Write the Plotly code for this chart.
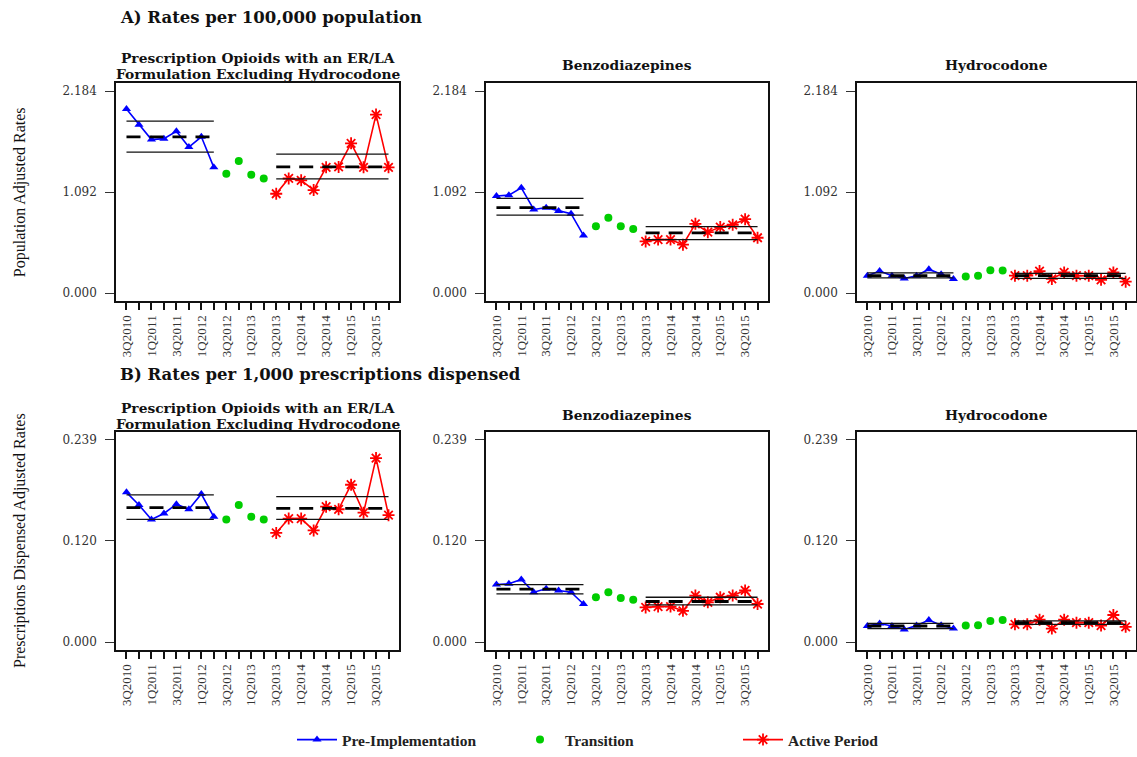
import plotly.graph_objects as go

# Quarters on the x axis (3Q2010 .. 4Q2015); every second one is labelled
quarters = ["3Q2010", "4Q2010", "1Q2011", "2Q2011", "3Q2011", "4Q2011",
            "1Q2012", "2Q2012", "3Q2012", "4Q2012", "1Q2013", "2Q2013",
            "3Q2013", "4Q2013", "1Q2014", "2Q2014", "3Q2014", "4Q2014",
            "1Q2015", "2Q2015", "3Q2015", "4Q2015"]
n_pre, n_trans, n_active = 8, 4, 10

# A) Rates per 100,000 population
pop_opioid_pre = [1.99, 1.82, 1.66, 1.67, 1.75, 1.58, 1.69, 1.36]
pop_opioid_trans = [1.29, 1.43, 1.28, 1.24]
pop_opioid_active = [1.075, 1.24, 1.22, 1.115, 1.36, 1.365, 1.62, 1.36, 1.93, 1.36]
pop_opioid_band_pre = [1.525, 1.69, 1.86]      # lower, mean, upper
pop_opioid_band_active = [1.235, 1.365, 1.503]

pop_benzo_pre = [1.05, 1.06, 1.14, 0.905, 0.925, 0.89, 0.86, 0.625]
pop_benzo_trans = [0.725, 0.815, 0.725, 0.695]
pop_benzo_active = [0.56, 0.58, 0.58, 0.525, 0.75, 0.66, 0.715, 0.74, 0.80, 0.60]
pop_benzo_band_pre = [0.845, 0.925, 1.025]
pop_benzo_band_active = [0.58, 0.652, 0.72]

pop_hydro_pre = [0.19, 0.24, 0.19, 0.16, 0.19, 0.26, 0.205, 0.155]
pop_hydro_trans = [0.18, 0.19, 0.25, 0.245]
pop_hydro_active = [0.19, 0.19, 0.24, 0.155, 0.225, 0.19, 0.19, 0.145, 0.225, 0.125]
pop_hydro_band_pre = [0.167, 0.19, 0.221]
pop_hydro_band_active = [0.16, 0.19, 0.214]

# B) Rates per 1,000 prescriptions dispensed
rx_opioid_pre = [0.177, 0.162, 0.145, 0.152, 0.163, 0.157, 0.175, 0.148]
rx_opioid_trans = [0.145, 0.162, 0.148, 0.145]
rx_opioid_active = [0.129, 0.146, 0.146, 0.132, 0.160, 0.157, 0.186, 0.153, 0.2175, 0.150]
rx_opioid_band_pre = [0.145, 0.159, 0.174]
rx_opioid_band_active = [0.145, 0.158, 0.172]

rx_benzo_pre = [0.068, 0.069, 0.074, 0.059, 0.063, 0.061, 0.059, 0.045]
rx_benzo_trans = [0.053, 0.059, 0.052, 0.050]
rx_benzo_active = [0.041, 0.042, 0.042, 0.037, 0.055, 0.047, 0.053, 0.055, 0.061, 0.045]
rx_benzo_band_pre = [0.057, 0.0625, 0.068]
rx_benzo_band_active = [0.044, 0.048, 0.053]

rx_hydro_pre = [0.019, 0.022, 0.019, 0.015, 0.0195, 0.026, 0.020, 0.016]
rx_hydro_trans = [0.0195, 0.020, 0.025, 0.026]
rx_hydro_active = [0.021, 0.021, 0.0265, 0.016, 0.0265, 0.023, 0.023, 0.0195, 0.032, 0.018]
rx_hydro_band_pre = [0.016, 0.019, 0.022]
rx_hydro_band_active = [0.021, 0.023, 0.025]

pop_ticks = [0.0, 1.092, 2.184]
pop_tick_labels = ["0.000", "1.092", "2.184"]
rx_ticks = [0.0, 0.120, 0.239]
rx_tick_labels = ["0.000", "0.120", "0.239"]

panel_titles = ["Prescription Opioids with an ER/LA|Formulation Excluding Hydrocodone",
                "Benzodiazepines", "Hydrocodone"]
section_titles = ["A) Rates per 100,000 population",
                  "B) Rates per 1,000 prescriptions dispensed"]
y_titles = ["Population Adjusted Rates", "Prescriptions Dispensed Adjusted Rates"]
legend_names = ["Pre-Implementation", "Transition", "Active Period"]

W, H = 1137, 757
BLUE, GREEN, RED = "#0000FF", "#00CD00", "#FF0000"
SERIF_WIDE = "DejaVu Serif"
SERIF = "Liberation Serif"


def fx(px):
    return px / W


def fy(py):
    return 1 - py / H


col_px = [(116, 399), (486, 768), (857, 1136)]
row_px = [(84, 305), (437, 658)]

panels = [
    (pop_opioid_pre, pop_opioid_trans, pop_opioid_active, pop_opioid_band_pre, pop_opioid_band_active),
    (pop_benzo_pre, pop_benzo_trans, pop_benzo_active, pop_benzo_band_pre, pop_benzo_band_active),
    (pop_hydro_pre, pop_hydro_trans, pop_hydro_active, pop_hydro_band_pre, pop_hydro_band_active),
    (rx_opioid_pre, rx_opioid_trans, rx_opioid_active, rx_opioid_band_pre, rx_opioid_band_active),
    (rx_benzo_pre, rx_benzo_trans, rx_benzo_active, rx_benzo_band_pre, rx_benzo_band_active),
    (rx_hydro_pre, rx_hydro_trans, rx_hydro_active, rx_hydro_band_pre, rx_hydro_band_active),
]

x_all = list(range(1, len(quarters) + 1))
x_pre = x_all[:n_pre]
x_trans = x_all[n_pre:n_pre + n_trans]
x_active = x_all[n_pre + n_trans:]

fig = go.Figure()
layout = {}

for i, (pre, trans, active, band_pre, band_active) in enumerate(panels):
    r, c = divmod(i, 3)
    k = "" if i == 0 else str(i + 1)
    xa, ya = "x" + k, "y" + k
    first = i == 0

    fig.add_trace(go.Scatter(
        x=x_pre, y=pre, xaxis=xa, yaxis=ya, mode="lines+markers",
        name=legend_names[0], legendgroup="pre", showlegend=first,
        line=dict(color=BLUE, width=1.6),
        marker=dict(symbol="triangle-up", size=8, color=BLUE)))
    fig.add_trace(go.Scatter(
        x=x_trans, y=trans, xaxis=xa, yaxis=ya, mode="markers",
        name=legend_names[1], legendgroup="trans", showlegend=first,
        marker=dict(symbol="circle", size=8, color=GREEN)))
    fig.add_trace(go.Scatter(
        x=x_active, y=active, xaxis=xa, yaxis=ya, mode="lines+markers",
        name=legend_names[2], legendgroup="active", showlegend=first,
        line=dict(color=RED, width=1.6),
        marker=dict(symbol="asterisk-open", size=10, color=RED,
                    line=dict(color=RED, width=1.8))))

    # mean (dashed) and limits (solid) for each period
    for xs, band in ((x_pre, band_pre), (x_active, band_active)):
        lo, mean, hi = band
        for val, dash, width, color in ((lo, "solid", 1.3, "#111"),
                                        (hi, "solid", 1.3, "#111"),
                                        (mean, "14px,9px", 2.8, "#000")):
            fig.add_trace(go.Scatter(
                x=[xs[0], xs[-1]], y=[val, val], xaxis=xa, yaxis=ya,
                mode="lines", showlegend=False, hoverinfo="skip",
                line=dict(color=color, width=width, dash=dash)))

    ticks, tlabels = (pop_ticks, pop_tick_labels) if r == 0 else (rx_ticks, rx_tick_labels)
    span = ticks[-1] - ticks[0]
    x0, x1 = col_px[c]
    y0, y1 = row_px[r]
    layout["xaxis" + k] = dict(
        domain=[fx(x0), fx(x1)], anchor=ya, range=[0.16, len(quarters) + 0.84],
        tickmode="array", tickvals=x_all,
        ticktext=[q if j % 2 == 0 else "" for j, q in enumerate(quarters)],
        tickangle=-90, ticks="outside", ticklen=7, tickwidth=1.5, tickcolor="#111",
        tickfont=dict(family=SERIF, size=13, color="#333"),
        showline=True, linecolor="#111", linewidth=1.6, mirror=True,
        showgrid=False, zeroline=False)
    layout["yaxis" + k] = dict(
        domain=[fy(y1), fy(y0)], anchor=xa,
        range=[ticks[0] - 0.04 * span, ticks[-1] + 0.04 * span],
        tickmode="array", tickvals=ticks, ticktext=tlabels,
        ticks="outside", ticklen=9, tickwidth=1.2, tickcolor="#333",
        ticklabelstandoff=6,
        tickfont=dict(family=SERIF_WIDE, size=12, color="#333"),
        showline=True, linecolor="#111", linewidth=1.6, mirror=True,
        showgrid=False, zeroline=False)

annotations = []
# section headings
for r, (text, ypx) in enumerate(zip(section_titles, (18, 379))):
    annotations.append(dict(
        text=text, x=fx(118), y=fy(ypx), xref="paper", yref="paper",
        xanchor="left", yanchor="middle", showarrow=False,
        font=dict(family=SERIF_WIDE, size=16.5, color="#111", weight="bold")))

# panel titles
for r, (y_one, y_two, y_single) in enumerate(((59, 75, 66), (413, 429, 420))):
    for c, title in enumerate(panel_titles):
        xc = fx((col_px[c][0] + col_px[c][1]) / 2)
        lines = title.split("|")
        ys = [y_single] if len(lines) == 1 else [y_one, y_two]
        for line, ypx in zip(lines, ys):
            annotations.append(dict(
                text=line, x=xc, y=fy(ypx), xref="paper", yref="paper",
                xanchor="center", yanchor="middle", showarrow=False,
                font=dict(family=SERIF_WIDE, size=13.8, color="#111", weight="bold")))

# y axis titles
for r, text in enumerate(y_titles):
    yc = fy((row_px[r][0] + row_px[r][1]) / 2)
    annotations.append(dict(
        text=text, x=fx(20), y=yc, xref="paper", yref="paper",
        xanchor="center", yanchor="middle", textangle=-90, showarrow=False,
        font=dict(family=SERIF, size=16, color="#111")))

fig.update_layout(
    **layout,
    annotations=annotations,
    width=W, height=H,
    margin=dict(l=0, r=0, t=0, b=0),
    paper_bgcolor="white", plot_bgcolor="white",
    showlegend=True,
    legend=dict(orientation="h", x=fx(292), xanchor="left", y=fy(749),
                yanchor="middle", entrywidth=168, entrywidthmode="pixels",
                font=dict(family=SERIF, size=15.5, color="#222", weight="bold"),
                bgcolor="rgba(0,0,0,0)", itemwidth=40),
)

fig.write_html("out.html")
